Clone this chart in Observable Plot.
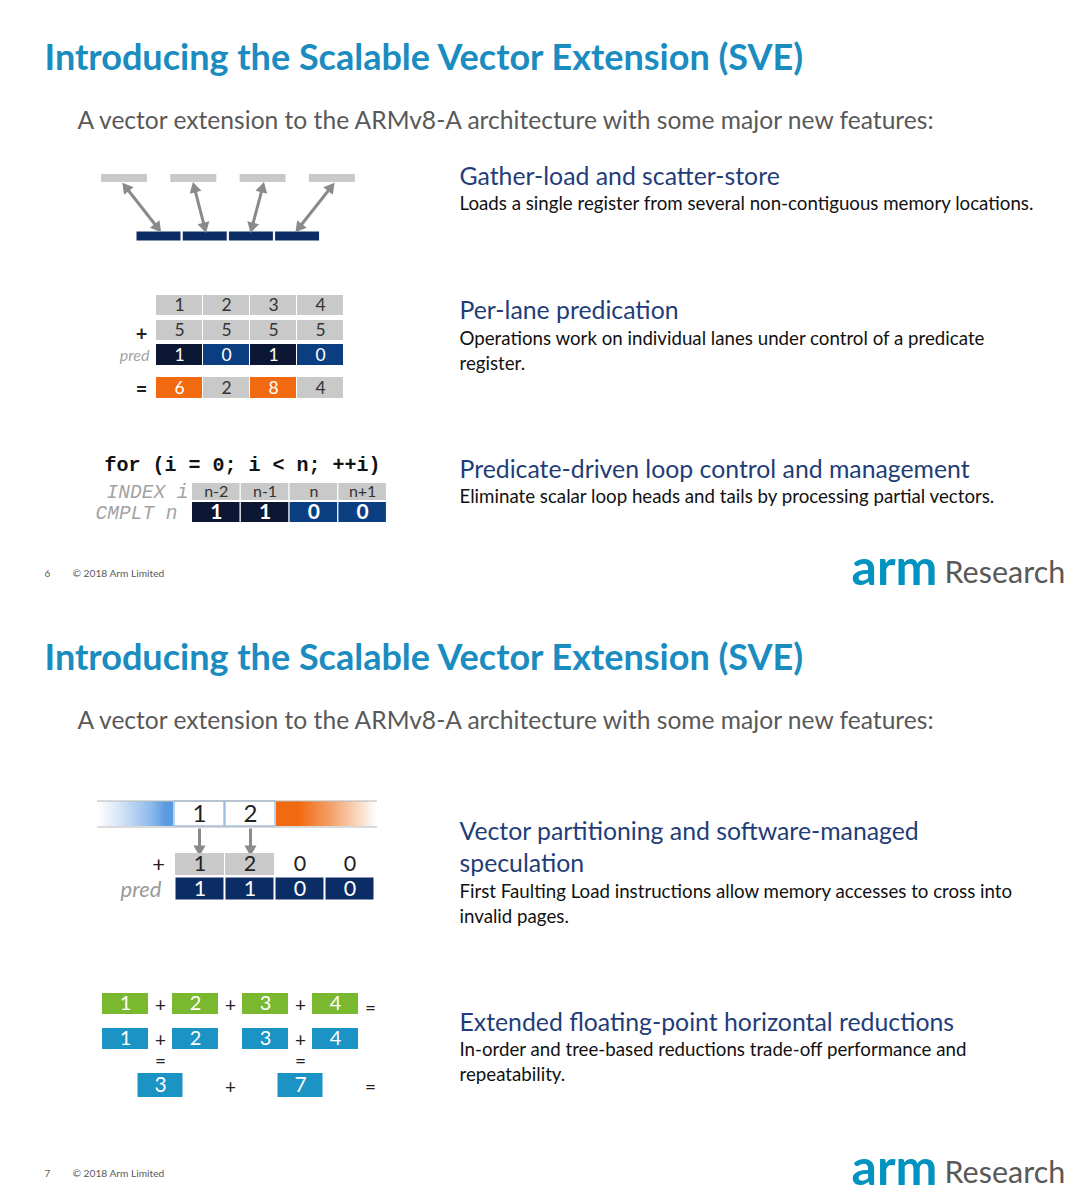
<!DOCTYPE html>
<html><head><meta charset="utf-8">
<script src="https://cdn.jsdelivr.net/npm/d3@7"></script>
<script src="https://cdn.jsdelivr.net/npm/@observablehq/plot@0.6"></script>
<style>html,body{margin:0;padding:0;background:#fff;overflow:hidden}</style>
</head><body><div id="chart"></div>
<script>
// ---------------- DATA ----------------
const slideTitle = "Introducing the Scalable Vector Extension (SVE)";
const slideSubtitle = "A vector extension to the ARMv8-A architecture with some major new features:";
const pageNumbers = ["6", "7"];
const copyrightText = "© 2018 Arm Limited";
const logoMark = "arm";
const logoWord = "Research";

const featureHeadings = [
  ["Gather-load and scatter-store"],
  ["Per-lane predication"],
  ["Predicate-driven loop control and management"],
  ["Vector partitioning and software-managed", "speculation"],
  ["Extended floating-point horizontal reductions"]
];
const featureBodies = [
  ["Loads a single register from several non-contiguous memory locations."],
  ["Operations work on individual lanes under control of a predicate", "register."],
  ["Eliminate scalar loop heads and tails by processing partial vectors."],
  ["First Faulting Load instructions allow memory accesses to cross into", "invalid pages."],
  ["In-order and tree-based reductions trade-off performance and", "repeatability."]
];

const lanes = [0, 1, 2, 3];
const predA = [1, 2, 3, 4];
const predB = [5, 5, 5, 5];
const predMask = [1, 0, 1, 0];
const predResult = [6, 2, 8, 4];
const predOps = ["+", "="];
const predLabel = "pred";

const loopCode = "for (i = 0; i < n; ++i)";
const loopLabels = ["INDEX i", "CMPLT n"];
const loopIndex = ["n-2", "n-1", "n", "n+1"];
const loopCmplt = [1, 1, 0, 0];

const ffLoaded = [1, 2];
const ffAdd = [1, 2, 0, 0];
const ffPred = [1, 1, 0, 0];
const ffOps = ["+"];

const reduceOrdered = [1, 2, 3, 4];
const reduceOrderedOps = ["+", "+", "+", "="];
const reduceTree = [1, 2, 3, 4];
const reduceTreeOps = ["+", "", "+"];
const reducePartial = [3, 7];
const reduceFinalOps = ["+", "="];

// ---------------- LAYOUT ----------------
const SLIDE = [0, 600];
const C = {
  title: "#1a8cc0", sub: "#595959", head: "#1f3d78", body: "#111111",
  grey: "#c9c9c9", greyText: "#333333", navy: "#0c2c66", navyDark: "#0b1733", navyMid: "#0a3e80",
  orange: "#f26a10", green: "#7ab92f", blue: "#1b93c4", arrow: "#8a8a8a", label: "#a3a3a3",
  foot: "#595959", logo: "#0093c2"
};
const FEAT = {x: 459, head: [177, 311, 470, 232, 423], body: [204, 339, 497, 292, 450], slide: [0, 0, 0, 1, 1], headLine: 32, bodyLine: 24.5};

function txt(data, o) {
  return Plot.text(data, {
    x: "x", y: "y", text: "t", lineAnchor: "middle",
    textAnchor: o.anchor || "start", fontSize: o.size, fontWeight: o.weight || "normal",
    fontStyle: o.style || "normal", fontFamily: o.family || "Lato", fill: o.fill || "#111"
  });
}
function cells(values, x0, step, w, y1, y2, fillFn, textFn) {
  return values.map((v, i) => ({
    v, t: String(v), x1: x0 + i * step, x2: x0 + i * step + w, y1, y2,
    x: x0 + i * step + w / 2, y: (y1 + y2) / 2,
    fill: typeof fillFn === "function" ? fillFn(v, i) : fillFn,
    tf: typeof textFn === "function" ? textFn(v, i) : textFn
  }));
}
function rectMark(data, extra = {}) {
  return Plot.rect(data, {x1: "x1", x2: "x2", y1: "y1", y2: "y2", fill: "fill", ...extra});
}
function cellText(data, size, weight) {
  return Plot.text(data, {x: "x", y: "y", text: "t", lineAnchor: "middle", textAnchor: "middle",
    fontSize: size, fontFamily: "Lato", fontWeight: weight || "normal", fill: "tf"});
}
// arrows: line + filled triangle heads
function arrowParts(segs, r) {
  const lines = [], heads = [];
  const tip = 2 * Math.sqrt(Math.PI * r * r / (Math.sqrt(3) * 3));
  for (const s of segs) {
    const dx = s.x2 - s.x1, dy = s.y2 - s.y1, len = Math.hypot(dx, dy), ux = dx / len, uy = dy / len;
    const rot = Math.atan2(dx, -dy) * 180 / Math.PI;
    let a = {x: s.x1, y: s.y1};
    if (s.both) { a = {x: s.x1 + ux * tip * 0.5, y: s.y1 + uy * tip * 0.5};
      heads.push({x: a.x, y: a.y, rot: rot + 180}); }
    const b = {x: s.x2 - ux * tip * 0.5, y: s.y2 - uy * tip * 0.5};
    heads.push({x: b.x, y: b.y, rot});
    lines.push({x1: a.x, y1: a.y, x2: b.x, y2: b.y});
  }
  return [
    Plot.link(lines, {x1: "x1", y1: "y1", x2: "x2", y2: "y2", stroke: C.arrow, strokeWidth: 3}),
    Plot.dot(heads, {x: "x", y: "y", symbol: "triangle", r, fill: C.arrow, stroke: null, rotate: "rot"})
  ];
}

// ---------- text blocks ----------
const titles = SLIDE.map(s => ({t: slideTitle, x: 44, y: s + 58}));
const subs = SLIDE.map(s => ({t: slideSubtitle, x: 77, y: s + 121}));
const heads = [], bodies = [];
featureHeadings.forEach((lines, k) => {
  const top = SLIDE[FEAT.slide[k]];
  lines.forEach((t, j) => heads.push({t, x: FEAT.x, y: top + FEAT.head[k] + j * FEAT.headLine}));
  featureBodies[k].forEach((t, j) => bodies.push({t, x: FEAT.x, y: top + FEAT.body[k] + j * FEAT.bodyLine}));
});
const pageNo = SLIDE.map((s, i) => ({t: pageNumbers[i], x: 44, y: s + 573}));
const copy = SLIDE.map(s => ({t: copyrightText, x: 72, y: s + 573}));
const logoA = SLIDE.map(s => ({t: logoMark, x: 851, y: s + 568}));
const logoR = SLIDE.map(s => ({t: logoWord, x: 944, y: s + 573}));

// ---------- slide 1 : gather ----------
const memBlocks = cells(lanes.map(() => ""), 101, 69.3, 46, 174, 182, C.grey, C.grey);
const regBlocks = cells(lanes.map(() => ""), 136, 46.2, 45, 231, 241, C.navy, C.navy);
const gatherSegs = lanes.map(i => ({x1: memBlocks[i].x, y1: 185, x2: regBlocks[i].x, y2: 229, both: true}));

// ---------- slide 1 : predication ----------
const pA = cells(predA, 156, 47, 46, 295, 315, C.grey, C.greyText);
const pB = cells(predB, 156, 47, 46, 320, 340, C.grey, C.greyText);
const pM = cells(predMask, 156, 47, 46, 344, 365, v => v ? C.navyDark : C.navyMid, "#ffffff");
const pR = cells(predResult, 156, 47, 46, 377, 398, (v, i) => predMask[i] ? C.orange : C.grey, (v, i) => predMask[i] ? "#ffffff" : C.greyText);
const pOps = [{t: predOps[0], x: 141, y: 334}, {t: predOps[1], x: 141, y: 389}];
const pLab = [{t: predLabel, x: 149, y: 355}];

// ---------- slide 1 : loop ----------
const lI = cells(loopIndex, 192, 48.8, 47.5, 483, 500, C.grey, C.greyText);
const lC = cells(loopCmplt, 192, 48.8, 47.5, 502, 522, v => v ? C.navyDark : C.navyMid, "#ffffff");
const lCode = [{t: loopCode, x: 104, y: 464}];
const lLab = [{t: loopLabels[0], x: 188, y: 491}, {t: loopLabels[1], x: 177, y: 512}];

// ---------- slide 2 : first-faulting ----------
const T2 = SLIDE[1];
const ffMem = cells(ffLoaded, 174, 51, 50, T2 + 201, T2 + 226, "#ffffff", "#222222");
const ffSegs = ffLoaded.map((v, i) => ({x1: ffMem[i].x, y1: T2 + 228, x2: ffMem[i].x, y2: T2 + 252}));
const ffAddCells = cells(ffAdd, 175, 50, 49, T2 + 253, T2 + 275, (v, i) => i < ffLoaded.length ? C.grey : "none", "#222222");
const ffPredCells = cells(ffPred, 175, 50, 49, T2 + 277, T2 + 300, C.navy, "#ffffff");
const ffOpsT = [{t: ffOps[0], x: 158, y: T2 + 264}];
const ffLab = [{t: predLabel, x: 161, y: T2 + 289}];
const barLeft = [{x1: 97, x2: 173, y1: T2 + 201, y2: T2 + 226}];
const barRight = [{x1: 276, x2: 377, y1: T2 + 201, y2: T2 + 226}];

// ---------- slide 2 : reductions ----------
const rO = cells(reduceOrdered, 102, 70, 46, T2 + 393, T2 + 414, C.green, "#ffffff");
const rT = cells(reduceTree, 102, 70, 46, T2 + 428, T2 + 449, C.blue, "#ffffff");
const rP = cells(reducePartial, 137.5, 140, 45, T2 + 473, T2 + 497, C.blue, "#ffffff");
const rOps = [];
reduceOrderedOps.forEach((t, i) => rOps.push({t, x: 160 + i * 70, y: T2 + (t === "=" ? 408 : 405)}));
reduceTreeOps.forEach((t, i) => t && rOps.push({t, x: 160 + i * 70, y: T2 + 440}));
reducePartial.forEach((v, k) => rOps.push({t: "=", x: 160 + k * 140, y: T2 + 461}));
rOps.push({t: reduceFinalOps[0], x: 230, y: T2 + 487});
rOps.push({t: reduceFinalOps[1], x: 370, y: T2 + 487});

const chart = Plot.plot({
  width: 1081, height: 1200, margin: 0,
  x: {type: "linear", domain: [0, 1081], range: [0, 1081], axis: null},
  y: {type: "linear", domain: [0, 1200], range: [0, 1200], axis: null},
  color: {type: "identity"},
  style: {background: "#ffffff", fontFamily: "Lato"},
  marks: [
    txt(titles, {size: 36, weight: "bold", fill: C.title}),
    txt(subs, {size: 24.6, fill: C.sub}),
    txt(heads, {size: 24.8, fill: C.head}),
    txt(bodies, {size: 18.7, fill: C.body}),
    txt(pageNo, {size: 10, fill: C.foot}),
    txt(copy, {size: 10.2, fill: C.foot}),
    txt(logoA, {size: 50, weight: "bold", fill: C.logo}),
    txt(logoR, {size: 30.5, fill: C.sub}),
    // gather
    rectMark(memBlocks), rectMark(regBlocks, {stroke: "#ffffff", strokeWidth: 1}),
    ...arrowParts(gatherSegs, 4.5),
    // predication
    rectMark(pA), rectMark(pB), rectMark(pM), rectMark(pR),
    cellText(pA, 17.5), cellText(pB, 17.5), cellText(pM, 17.5), cellText(pR, 17.5),
    txt(pOps, {size: 20, anchor: "middle", fill: "#222", weight: "bold"}),
    txt(pLab, {size: 16, anchor: "end", style: "italic", fill: C.label}),
    // loop
    rectMark(lI), rectMark(lC),
    cellText(lI, 16), cellText(lC, 21, "bold"),
    txt(lCode, {size: 20, weight: "bold", family: "Liberation Mono", fill: "#111"}),
    txt(lLab, {size: 19.5, style: "italic", family: "Liberation Mono", anchor: "end", fill: C.label}),
    // first faulting
    rectMark(barLeft, {fill: "url(#gradBlue)"}),
    rectMark(barRight, {fill: "url(#gradOrange)"}),
    rectMark(ffMem, {stroke: "#8eb4e3", strokeWidth: 1.2}),
    Plot.ruleY([T2 + 200.5, T2 + 226.5], {x1: 97, x2: 377, stroke: "#b5b5b5", strokeWidth: 1}),
    cellText(ffMem, 24),
    ...arrowParts(ffSegs, 4.5),
    rectMark(ffAddCells), rectMark(ffPredCells, {stroke: "#ffffff", strokeWidth: 1}),
    cellText(ffAddCells, 21.5), cellText(ffPredCells, 21.5),
    txt(ffOpsT, {size: 22, anchor: "middle", fill: "#222"}),
    txt(ffLab, {size: 22, anchor: "end", style: "italic", fill: "#9a9a9a"}),
    // reductions
    rectMark(rO), rectMark(rT), rectMark(rP),
    cellText(rO, 20), cellText(rT, 20), cellText(rP, 21),
    txt(rOps, {size: 19, anchor: "middle", fill: "#222"})
  ]
});

const defs = d3.select(chart).insert("defs", ":first-child");
const gb = defs.append("linearGradient").attr("id", "gradBlue").attr("x1", "0").attr("x2", "1").attr("y1", "0").attr("y2", "0");
[[0, "#ffffff"], [0.25, "#dfeaf8"], [0.7, "#8fbbeb"], [0.9, "#5b9be0"], [1, "#5b9be0"]].forEach(([o, c]) => gb.append("stop").attr("offset", o).attr("stop-color", c));
const go = defs.append("linearGradient").attr("id", "gradOrange").attr("x1", "0").attr("x2", "1").attr("y1", "0").attr("y2", "0");
[[0, "#f26a10"], [0.22, "#f26a10"], [0.55, "#f3a26c"], [0.85, "#fbe0cd"], [1, "#ffffff"]].forEach(([o, c]) => go.append("stop").attr("offset", o).attr("stop-color", c));

document.getElementById("chart").appendChild(chart);
</script></body></html>
